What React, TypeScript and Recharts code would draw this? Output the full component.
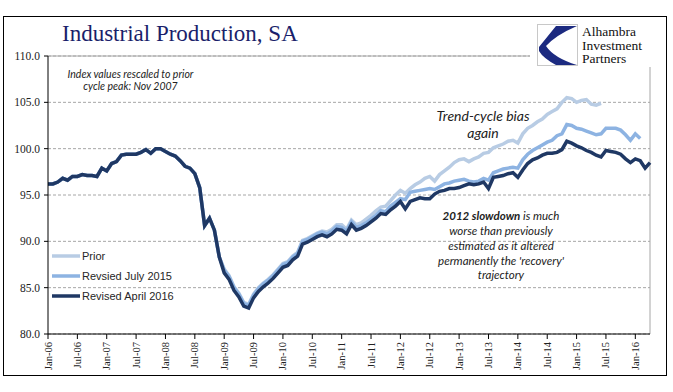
import { LineChart, Line, XAxis, YAxis, CartesianGrid, ReferenceLine } from 'recharts';

// month index 0 = Jan-06
const TICK_POS = [0, 6, 12, 18, 24, 30, 36, 42, 48, 54, 60, 66, 72, 78, 84, 90, 96, 102, 108, 114, 120];
const TICK_LABELS = [
  'Jan-06', 'Jul-06', 'Jan-07', 'Jul-07', 'Jan-08', 'Jul-08', 'Jan-09', 'Jul-09', 'Jan-10', 'Jul-10',
  'Jan-11', 'Jul-11', 'Jan-12', 'Jul-12', 'Jan-13', 'Jul-13', 'Jan-14', 'Jul-14', 'Jan-15', 'Jul-15', 'Jan-16',
];
const Y_TICKS = [80, 85, 90, 95, 100, 105, 110];

// Prior (through Jun-15)
const PRIOR = [
  96.2, 96.2, 96.4, 96.8, 96.6, 97.0, 97.0, 97.2, 97.1, 97.1, 97.0, 97.9,
  97.6, 98.4, 98.6, 99.3, 99.4, 99.4, 99.4, 99.6, 99.9, 99.5, 100.0, 100.0,
  99.7, 99.4, 99.2, 98.7, 98.1, 97.9, 97.3, 95.8, 91.7, 92.5, 91.2, 88.3,
  87.0, 86.3, 85.1, 84.4, 83.4, 83.2, 84.3, 85.0, 85.5, 85.9, 86.4, 87.0,
  87.6, 87.8, 88.4, 88.8, 90.1, 90.3, 90.6, 90.9, 91.1, 91.0, 91.3, 91.8,
  91.8, 91.3, 92.3, 91.8, 92.0, 92.4, 92.8, 93.3, 93.7, 93.8, 94.4, 95.0,
  95.5, 95.2, 95.7, 96.1, 96.4, 96.8, 97.0, 96.5, 97.2, 97.6, 98.0, 98.5,
  98.8, 98.9, 98.6, 98.9, 99.1, 99.5, 99.6, 100.1, 100.3, 100.5, 100.8, 100.9,
  100.6, 101.6, 102.2, 102.5, 102.9, 103.2, 103.7, 104.0, 104.3, 105.0, 105.5, 105.4,
  105.0, 105.2, 105.3, 104.8, 104.7, 104.9,
];

// Revsied July 2015
const JULY = [
  96.2, 96.2, 96.4, 96.8, 96.6, 97.0, 97.0, 97.2, 97.1, 97.1, 97.0, 97.9,
  97.6, 98.4, 98.6, 99.3, 99.4, 99.4, 99.4, 99.6, 99.9, 99.5, 100.0, 100.0,
  99.7, 99.4, 99.2, 98.7, 98.1, 97.9, 97.3, 95.8, 91.7, 92.5, 91.2, 88.3,
  86.9, 86.2, 85.0, 84.3, 83.3, 83.1, 84.2, 84.9, 85.4, 85.8, 86.3, 86.9,
  87.5, 87.7, 88.3, 88.7, 90.0, 90.2, 90.5, 90.8, 91.0, 90.8, 91.1, 91.6,
  91.5, 91.1, 92.1, 91.5, 91.7, 92.0, 92.4, 92.8, 93.3, 93.2, 93.8, 94.2,
  94.6, 94.5, 95.3, 95.4, 95.5, 95.6, 95.7, 95.6, 95.9, 96.2, 96.3, 96.5,
  96.6, 96.7, 96.5, 96.4, 96.5, 96.8, 96.6, 97.4, 97.6, 97.8, 97.9, 98.0,
  97.9, 98.8, 99.4, 99.8, 100.1, 100.4, 100.7, 100.9, 101.4, 101.6, 102.6, 102.5,
  102.2, 102.1, 101.9, 101.7, 101.5, 101.6, 102.2, 102.2, 102.2, 102.0, 101.5, 100.9,
  101.6, 101.1,
];

// Revised April 2016
const APRIL = [
  96.2, 96.2, 96.4, 96.8, 96.6, 97.0, 97.0, 97.2, 97.1, 97.1, 97.0, 97.9,
  97.6, 98.4, 98.6, 99.3, 99.4, 99.4, 99.4, 99.6, 99.9, 99.5, 100.0, 100.0,
  99.7, 99.4, 99.2, 98.7, 98.1, 97.9, 97.3, 95.8, 91.7, 92.5, 91.2, 88.3,
  86.6, 85.9, 84.7, 84.0, 83.0, 82.8, 83.9, 84.6, 85.1, 85.5, 86.0, 86.6,
  87.2, 87.4, 88.0, 88.4, 89.7, 89.9, 90.2, 90.5, 90.7, 90.5, 90.8, 91.3,
  91.2, 90.8, 91.8, 91.2, 91.4, 91.7, 92.1, 92.5, 93.0, 92.9, 93.4, 93.8,
  94.3, 93.5, 94.3, 94.5, 94.7, 94.6, 94.6, 95.1, 95.4, 95.5, 95.7, 95.7,
  95.8, 96.0, 96.2, 96.1, 96.2, 96.4, 95.7, 96.9, 97.0, 97.1, 97.3, 97.4,
  96.9, 97.7, 98.4, 98.8, 99.0, 99.3, 99.5, 99.5, 99.6, 99.9, 100.8, 100.6,
  100.3, 100.1, 99.8, 99.6, 99.3, 99.1, 99.8, 99.7, 99.6, 99.4, 98.9, 98.5,
  98.9, 98.7, 97.9, 98.5,
];

const C_PRIOR = '#b8cce4';
const C_JULY = '#8db3e2';
const C_APRIL = '#1f3864';

const data = APRIL.map((v, i) => ({ i, prior: PRIOR[i], july: JULY[i], april: v }));

const serif = '"Liberation Serif", "Times New Roman", serif';
const sans = '"Liberation Sans", Arial, sans-serif';
const note = 'Lato, "Open Sans", sans-serif';

function XTick(props: any) {
  const { x, y, payload } = props;
  const idx = TICK_POS.indexOf(payload.value);
  return (
    <text
      x={x}
      y={y}
      transform={`rotate(-90 ${x} ${y})`}
      textAnchor="end"
      dominantBaseline="central"
      fontFamily={serif}
      fontSize={10.5}
      fill="#222"
    >
      {TICK_LABELS[idx]}
    </text>
  );
}

export default function App() {
  return (
    <div style={{ position: 'relative', width: 673, height: 392, background: '#fff', overflow: 'hidden' }}>
      <style>{'body{margin:0}'}</style>
      <div style={{ position: 'absolute', left: 0, top: 0 }}>
        <LineChart width={673} height={392} data={data} margin={{ top: 56, right: 23, bottom: 0, left: 0 }}>
          <CartesianGrid vertical={false} stroke="#a6a6a6" strokeDasharray="3 2" />
          <ReferenceLine y={110} stroke="#a6a6a6" />
          <ReferenceLine x={123} stroke="#a6a6a6" />
          <XAxis
            dataKey="i"
            type="number"
            domain={[0, 123]}
            ticks={TICK_POS}
            interval={0}
            height={58}
            tick={<XTick />}
            tickSize={5}
            tickMargin={3}
            axisLine={{ stroke: '#000' }}
            tickLine={{ stroke: '#000' }}
          />
          <YAxis
            domain={[80, 110]}
            ticks={Y_TICKS}
            width={48}
            tickFormatter={(v: number) => v.toFixed(1)}
            tick={{ fontFamily: serif, fontSize: 11.5, fill: '#222' }}
            tickSize={4}
            tickMargin={4}
            axisLine={{ stroke: '#000' }}
            tickLine={{ stroke: '#000' }}
          />
          <Line dataKey="prior" stroke={C_PRIOR} strokeWidth={3.5} dot={false} isAnimationActive={false} />
          <Line dataKey="july" stroke={C_JULY} strokeWidth={3.5} dot={false} isAnimationActive={false} />
          <Line dataKey="april" stroke={C_APRIL} strokeWidth={3.5} dot={false} isAnimationActive={false} />
        </LineChart>
      </div>
      <svg width={673} height={392} style={{ position: 'absolute', left: 0, top: 0, pointerEvents: 'none' }}>
        <rect x={3.5} y={16.5} width={663} height={359} fill="none" stroke="#000" />
        <text x={62} y={41} fontFamily={serif} fontSize={23} fill="#1a1f6b">
          Industrial Production, SA
        </text>

        {/* logo */}
        <rect x={530} y={20} width={132} height={47} fill="#fff" />
        <rect x={537.5} y={24.5} width={40} height={41} fill="#fff" stroke="#c8c8c8" />
        <path d="M556 26 L577 26 Q556 35 546 46 Q554 58 577 65 L556 65 Q543 58 539 51 L539 47 Z" fill="#1c2a80" />
        <g fontFamily={serif} fontSize={13.5} fill="#111">
          <text x={582} y={36}>Alhambra</text>
          <text x={582} y={49.5}>Investment</text>
          <text x={582} y={63}>Partners</text>
        </g>

        {/* notes */}
        <g fontFamily={note} fontStyle="italic" fill="#222" textAnchor="middle">
          <text x={130.5} y={77.5} fontSize={10.5}>Index values rescaled to prior</text>
          <text x={130.5} y={90} fontSize={10.5}>cycle peak: Nov 2007</text>
          <text x={483} y={121} fontSize={14}>Trend-cycle bias</text>
          <text x={483} y={138} fontSize={14}>again</text>
          <g fontSize={11.5}>
            <text x={501} y={219.5}>
              <tspan fontWeight="bold">2012 slowdown</tspan> is much
            </text>
            <text x={501} y={235}>worse than previously</text>
            <text x={501} y={249.5}>estimated as it altered</text>
            <text x={501} y={264.5}>permanently the 'recovery'</text>
            <text x={501} y={279}>trajectory</text>
          </g>
        </g>

        {/* legend */}
        <g fontFamily={sans} fontSize={11} fill="#262626">
          <line x1={52} x2={80} y1={256} y2={256} stroke={C_PRIOR} strokeWidth={3.5} />
          <text x={82} y={260}>Prior</text>
          <line x1={52} x2={80} y1={276} y2={276} stroke={C_JULY} strokeWidth={3.5} />
          <text x={82} y={280}>Revsied July 2015</text>
          <line x1={52} x2={80} y1={296} y2={296} stroke={C_APRIL} strokeWidth={3.5} />
          <text x={82} y={300}>Revised April 2016</text>
        </g>
      </svg>
    </div>
  );
}
